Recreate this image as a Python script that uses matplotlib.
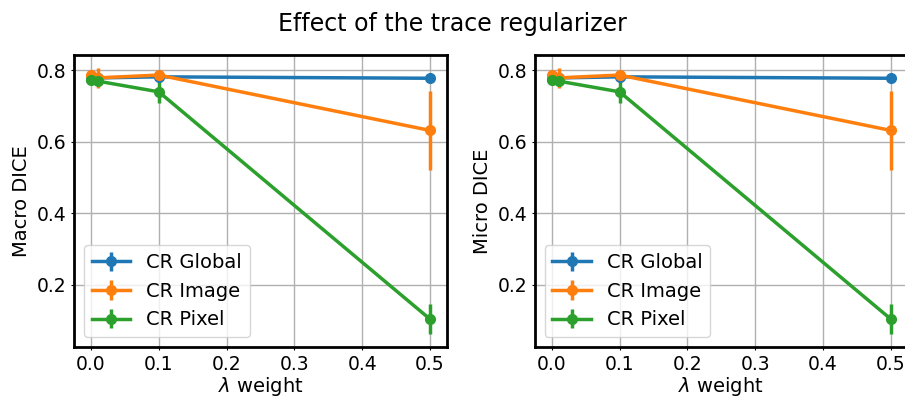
import matplotlib
matplotlib.use('Agg')
import matplotlib.pyplot as plt

# lambda weights
lam = [0.0, 0.01, 0.1, 0.5]

# macro DICE (mean, std)
macro_global = [0.777, 0.779, 0.782, 0.778]
macro_global_err = [0.004, 0.004, 0.004, 0.004]
macro_image = [0.788, 0.779, 0.787, 0.632]
macro_image_err = [0.008, 0.027, 0.006, 0.11]
macro_pixel = [0.773, 0.770, 0.740, 0.104]
macro_pixel_err = [0.010, 0.010, 0.030, 0.041]

# micro DICE (mean, std)
micro_global = [0.777, 0.779, 0.782, 0.778]
micro_global_err = [0.004, 0.004, 0.004, 0.004]
micro_image = [0.788, 0.779, 0.787, 0.632]
micro_image_err = [0.008, 0.027, 0.006, 0.11]
micro_pixel = [0.773, 0.770, 0.740, 0.104]
micro_pixel_err = [0.010, 0.010, 0.030, 0.041]

labels = ['CR Global', 'CR Image', 'CR Pixel']
colors = ['#1f77b4', '#ff7f0e', '#2ca02c']

fig = plt.figure(figsize=(9.05, 3.97), dpi=100)
ax1 = fig.add_axes([0.0818, 0.126, 0.412, 0.7355])
ax2 = fig.add_axes([0.591, 0.126, 0.412, 0.7355])

data = [
    (ax1, 'Macro DICE', [(macro_global, macro_global_err), (macro_image, macro_image_err), (macro_pixel, macro_pixel_err)]),
    (ax2, 'Micro DICE', [(micro_global, micro_global_err), (micro_image, micro_image_err), (micro_pixel, micro_pixel_err)]),
]

for ax, ylab, series in data:
    for (y, e), lab, c in zip(series, labels, colors):
        ax.errorbar(lam, y, yerr=e, label=lab, color=c, marker='o',
                    markersize=7, linewidth=2.5, elinewidth=2.5)
    ax.set_ylabel(ylab, fontsize=14, labelpad=4)
    ax.set_xlabel(r'$\lambda$ weight', fontsize=14, labelpad=1)
    ax.set_xticks([0.0, 0.1, 0.2, 0.3, 0.4, 0.5])
    ax.set_yticks([0.2, 0.4, 0.6, 0.8])
    ax.tick_params(labelsize=13.5, length=2.5, pad=3)
    ax.grid(True, color='#b0b0b0', linewidth=1)
    for s in ax.spines.values():
        s.set_linewidth(2)
    ax.legend(loc='lower left', fontsize=14)

fig.suptitle('Effect of the trace regularizer', fontsize=17, y=0.97)
fig.savefig('out.png', dpi=100)
